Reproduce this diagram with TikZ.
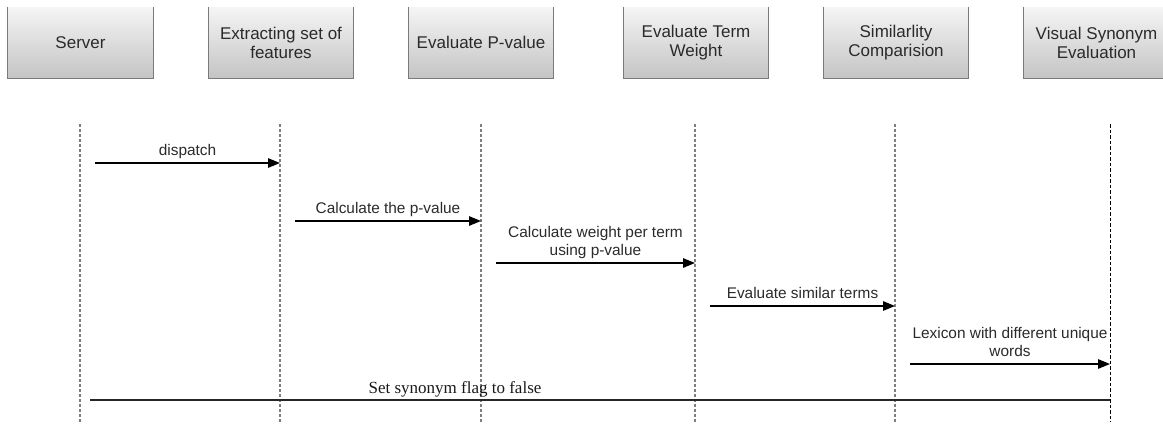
\documentclass[tikz,border=0pt]{standalone}
\usepackage{fontspec}
\setmainfont{Liberation Sans}
\newfontfamily\serifface{Liberation Serif}
\usetikzlibrary{arrows.meta}
\definecolor{boxtop}{HTML}{F5F5F5}
\definecolor{boxbot}{HTML}{C4C4C4}
\definecolor{boxedge}{HTML}{7A7A7A}
\definecolor{labeltext}{HTML}{2A2A2A}
\definecolor{lifegray}{HTML}{7E7E7E}
\begin{document}
\begin{tikzpicture}[x=1pt,y=-1pt,
  actor/.style={minimum width=145pt, minimum height=71pt, inner sep=0pt,
    top color=boxtop, bottom color=boxbot, align=center, text=labeltext,
    font=\fontsize{17}{19}\selectfont},
  actoredge/.style={draw=boxedge, line width=1.2pt},
  life/.style={draw=lifegray, line width=2pt, dash pattern=on 2.5pt off 2.5pt},
  lifedark/.style={draw=black, line width=0.9pt, dash pattern=on 3.5pt off 2pt},
  msg/.style={draw=black, line width=1.3pt, -{Triangle[length=12pt,width=9.5pt]}},
  msglabel/.style={anchor=south, inner sep=0pt, text depth=0pt, align=center,
    text=labeltext, font=\fontsize{15.4}{18}\selectfont, yshift=6.5pt},
  finallabel/.style={anchor=base, inner sep=0pt, text=black!90,
    font=\serifface\fontsize{17}{20}\selectfont}]
\useasboundingbox (0,0) rectangle (1163,424);
\clip (0,0) rectangle (1163,424);

% participants
\node[actor] (srv) at (80.5,42.5) {Server};
\node[actor] (ext) at (281,42.5) {Extracting set of\\features};
\node[actor] (pval) at (481,42.5) {Evaluate P-value};
\node[actor] (term) at (696,42.5) {Evaluate Term\\Weight};
\node[actor] (sim) at (896,42.5) {Similarlity\\Comparision};
\node[actor] (vse) at (1096.5,42.5) {Visual Synonym\\Evaluation};
\foreach \n in {srv,ext,pval,term,sim,vse}
  \draw[actoredge] (\n.north west) -- (\n.south west) -- (\n.south east) -- (\n.north east);

% lifelines
\coordinate (srvL) at (80,124);
\coordinate (extL) at (280,124);
\coordinate (pvalL) at (481,124);
\coordinate (termL) at (695,124);
\coordinate (simL) at (895,124);
\coordinate (vseL) at (1110,124);
\foreach \n in {srv,ext,pval,term,sim}
  \draw[life] (\n L) -- (\n L |- 0,422);
\draw[lifedark] (vseL) -- (vseL |- 0,422);

% messages
\coordinate (m1) at (95,163);
\draw[msg] (m1) -- (extL |- m1) node[midway, msglabel] {dispatch};
\coordinate (m2) at (295,221);
\draw[msg] (m2) -- (pvalL |- m2) node[midway, msglabel] {Calculate the p-value};
\coordinate (m3) at (496,263);
\draw[msg] (m3) -- (termL |- m3) node[midway, msglabel] {Calculate weight per term\\using p-value};
\coordinate (m4) at (710,306);
\draw[msg] (m4) -- (simL |- m4) node[midway, msglabel] {Evaluate similar terms};
\coordinate (m5) at (910,364);
\draw[msg] (m5) -- (vseL |- m5) node[midway, msglabel] {Lexicon with different unique\\words};

% closing message
\coordinate (m6) at (90,400);
\draw[draw=black!85, line width=1.3pt] (m6) -- (vseL |- m6);
\node[finallabel] (flag) at (455,393) {Set synonym flag to false};
\end{tikzpicture}
\end{document}
